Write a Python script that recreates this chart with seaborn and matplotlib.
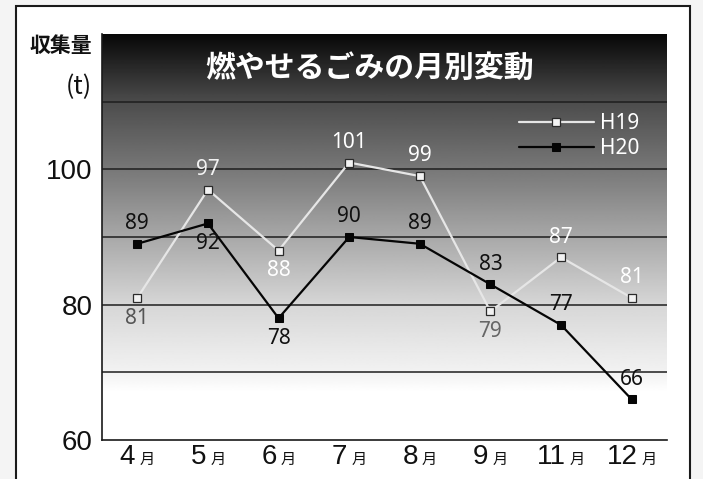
import numpy as np
import pandas as pd
import matplotlib
matplotlib.use('Agg')
import matplotlib.pyplot as plt
from matplotlib.patches import Rectangle
from matplotlib.offsetbox import TextArea, HPacker, AnnotationBbox
import seaborn as sns

# monthly collected amount of burnable garbage (t)
months = ['4', '5', '6', '7', '8', '9', '11', '12']
h19 = [81, 97, 88, 101, 99, 79, 87, 81]
h20 = [89, 92, 78, 90, 89, 83, 77, 66]
yticks = [60, 80, 100]

# label side (+1 above, -1 below) and colour of the value labels
h19_side = [-1, 1, -1, 1, 1, -1, 1, 1]
h19_color = ['#555555', '#f2f2f2', '#ffffff', '#ffffff', '#ffffff', '#666666', '#ffffff', '#ffffff']
h20_side = [1, -1, -1, 1, 1, 1, 1, 1]

df = pd.DataFrame({'pos': np.arange(len(months)), 'H19': h19, 'H20': h20})

sns.set_style('white')
plt.rcParams['font.family'] = ['Noto Sans CJK JP', 'DejaVu Sans']
narrow = ['Liberation Sans Narrow', 'Liberation Sans', 'DejaVu Sans']
latin = ['Noto Sans', 'DejaVu Sans']

W, H = 703, 479
fig = plt.figure(figsize=(W / 100, H / 100), dpi=100, facecolor='#f4f4f4')

# white panel with dark frame
fig.patches.append(Rectangle((16 / W, -0.1), (690 - 16) / W, (H - 6) / H + 0.1,
                             transform=fig.transFigure, facecolor='white',
                             edgecolor='#1a1a1a', lw=1.5, zorder=-1))

ax = fig.add_axes([102 / W, 1 - 440 / H, 565 / W, 406 / H])
ax.patch.set_facecolor('white')

# grey gradient background, dark on top
yy = np.linspace(60, 120, 500)
shade = np.interp(yy, [60, 67, 70, 80, 90, 100, 110, 120],
                  [1.0, 1.0, 0.95, 0.84, 0.66, 0.47, 0.3, 0.03])
ax.imshow(shade[:, None], extent=(-0.5, 7.5, 60, 120), origin='lower',
          aspect='auto', cmap='gray', vmin=0, vmax=1, zorder=0)

for v in [70, 80, 90, 100, 110]:
    ax.axhline(v, color='#1e1e1e', lw=1.1, zorder=1)

sns.lineplot(data=df, x='pos', y='H19', ax=ax, color='#e6e6e6', lw=1.6,
             marker='s', markersize=5.2, markerfacecolor='#f2f2f2',
             markeredgecolor='#2a2a2a', markeredgewidth=0.9, label='H19', zorder=3)
sns.lineplot(data=df, x='pos', y='H20', ax=ax, color='#050505', lw=1.6,
             marker='s', markersize=5.6, markerfacecolor='#050505',
             markeredgecolor='#050505', label='H20', zorder=4)

for i, v in enumerate(h19):
    ax.annotate(str(v), (i, v), xytext=(0, 14.5 * h19_side[i]), textcoords='offset points',
                ha='center', va='center', fontsize=15, color=h19_color[i],
                family=latin, zorder=5)
for i, v in enumerate(h20):
    ax.annotate(str(v), (i, v), xytext=(0, 14.5 * h20_side[i]), textcoords='offset points',
                ha='center', va='center', fontsize=15, color='#111111',
                family=latin, zorder=5)

ax.set_xlim(-0.5, 7.5)
ax.set_ylim(60, 120)
ax.set_xlabel('')
ax.set_ylabel('')

# category separators as inward ticks
ax.set_xticks(np.arange(-0.5, 8, 1))
ax.set_xticklabels([])
ax.tick_params(axis='x', direction='in', length=7, width=1, color='#1a1a1a')
for i, m in enumerate(months):
    box = HPacker(children=[TextArea(m, textprops=dict(fontsize=20, family=narrow, color='#111111')),
                            TextArea('月', textprops=dict(fontsize=11, color='#111111'))],
                  align='baseline', pad=0, sep=3)
    ab = AnnotationBbox(box, (i, 0), xycoords=('data', 'axes fraction'),
                        box_alignment=(0.5, 1), xybox=(0, -3),
                        boxcoords='offset points', frameon=False)
    ax.add_artist(ab)

ax.set_yticks(yticks)
ax.set_yticklabels([str(t) for t in yticks], family=narrow, fontsize=20, color='#111111')
ax.tick_params(axis='y', length=0, pad=7)

sns.despine(ax=ax)
for s in ['left', 'bottom']:
    ax.spines[s].set_color('#1a1a1a')
    ax.spines[s].set_linewidth(1.2)
    ax.spines[s].set_zorder(6)

ax.legend(frameon=False, loc='upper left', bbox_to_anchor=(0.738, 0.805),
          handlelength=3.6, handletextpad=0.3, labelcolor='white',
          borderpad=0, borderaxespad=0, labelspacing=0.2,
          prop=dict(family=latin, size=15))

ax.text(0.474, 0.917, '燃やせるごみの月別変動', transform=ax.transAxes,
        ha='center', va='center', color='white', fontsize=21.5, fontweight='bold')

fig.text(61 / W, 1 - 46 / H, '収集量', ha='center', va='center',
         fontsize=15, fontweight='bold', color='#111111')
fig.text(92 / W, 1 - 87 / H, '(t)', ha='right', va='center',
         fontsize=18, color='#111111')

fig.savefig('out.png', dpi=100, facecolor=fig.get_facecolor())
